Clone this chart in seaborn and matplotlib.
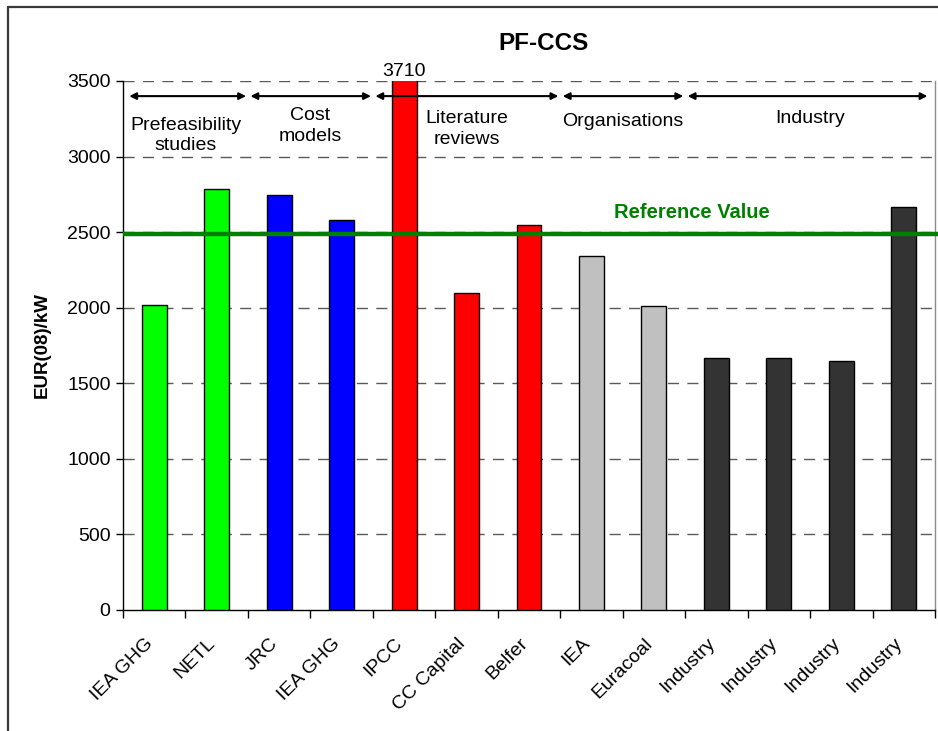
import numpy as np
import pandas as pd
import matplotlib
matplotlib.use("Agg")
import matplotlib.pyplot as plt
import matplotlib.transforms as mtransforms
from matplotlib.lines import Line2D
from matplotlib.ticker import FixedLocator, NullFormatter
import seaborn as sns

# Capital cost estimates for pulverised-fuel plants with CCS
sources = ["IEA GHG", "NETL", "JRC", "IEA GHG", "IPCC", "CC Capital", "Belfer",
           "IEA", "Euracoal", "Industry", "Industry", "Industry", "Industry"]
costs = [2020, 2785, 2745, 2580, 3710, 2100, 2550, 2345, 2010, 1670, 1665, 1645, 2665]
groups = ["Prefeasibility\nstudies"] * 2 + ["Cost\nmodels"] * 2 + \
         ["Literature\nreviews"] * 3 + ["Organisations"] * 2 + ["Industry"] * 4
group_names = ["Prefeasibility\nstudies", "Cost\nmodels", "Literature\nreviews",
               "Organisations", "Industry"]
group_colors = ["#00FF00", "#0000FF", "#FF0000", "#C0C0C0", "#333333"]
reference_value = 2490

y_max = 3500
y_ticks = [0, 500, 1000, 1500, 2000, 2500, 3000, 3500]

df = pd.DataFrame({"pos": np.arange(len(sources)), "source": sources,
                   "cost": costs, "group": groups})
color_of = dict(zip(group_names, group_colors))
bar_colors = [color_of[g] for g in df["group"]]

sns.set_theme(style="white")
plt.rcParams["font.family"] = ["Liberation Sans", "DejaVu Sans"]
plt.rcParams.update({"text.color": "black", "axes.labelcolor": "black",
                     "xtick.color": "black", "ytick.color": "black"})

fig = plt.figure(figsize=(9.38, 7.31), dpi=100)
ax = fig.add_axes([123 / 938, 1 - 610 / 731, 812 / 938, 529 / 731])

sns.barplot(data=df, x="pos", y="cost", hue="pos", palette=bar_colors,
            legend=False, width=0.4, edgecolor="black", linewidth=1.0,
            saturation=1, ax=ax, zorder=3)

ax.set_xlim(-0.5, len(sources) - 0.5)
ax.set_ylim(0, y_max)

# dashed horizontal grid
for v in y_ticks[1:]:
    ax.axhline(v, color="#5a5a5a", lw=1.0, ls=(0, (8, 6)), zorder=1)

ax.set_yticks(y_ticks)
ax.tick_params(axis="y", labelsize=14, length=5, width=1, direction="out",
               left=True, pad=4, colors="black")
ax.set_xticks(df["pos"])
ax.set_xticklabels(sources, rotation=45, ha="right", va="top",
                   rotation_mode="anchor", fontsize=14, color="black")
ax.tick_params(axis="x", length=0, pad=18)
shift = mtransforms.ScaledTranslation(-10 / 100, 0, fig.dpi_scale_trans)
for lbl in ax.get_xticklabels():
    lbl.set_transform(lbl.get_transform() + shift)
ax.xaxis.set_minor_locator(FixedLocator(np.arange(-0.5, len(sources), 1.0)))
ax.xaxis.set_minor_formatter(NullFormatter())
ax.tick_params(axis="x", which="minor", length=6, width=1, direction="out",
               bottom=True, color="black")

ax.set_xlabel("")
ax.set_ylabel("")
for side in ["left", "bottom"]:
    ax.spines[side].set_color("black")
    ax.spines[side].set_linewidth(1.0)
ax.spines["top"].set_visible(False)
ax.spines["right"].set_color("#8a8a8a")
ax.spines["right"].set_linewidth(1.0)

# value of the bar that runs off the scale
ax.annotate(f"{costs[4]}", xy=(4, y_max), xytext=(0, 1),
            textcoords="offset points", ha="center", va="bottom",
            fontsize=14, annotation_clip=False)

# reference line
ax.plot([-0.5, len(sources) - 0.45], [reference_value] * 2, color="#008000",
        lw=3.2, zorder=4, clip_on=False, solid_capstyle="butt")
ax.text(8.6, 2627, "Reference Value", color="#008000", fontsize=14.5,
        fontweight="bold", ha="center", va="center", zorder=5)

# group spans with double-headed arrows
bounds = [-0.5, 1.5, 3.5, 6.5, 8.5, 12.5]
label_top = [3265, 3325, 3305, 3290, 3310]
for i, name in enumerate(group_names):
    lo = bounds[i] + (0.1 if i == 0 else 0.04)
    hi = bounds[i + 1] - (0.12 if i == len(group_names) - 1 else 0.03)
    ax.annotate("", xy=(lo, 3400), xytext=(hi, 3400),
                arrowprops=dict(arrowstyle="<|-|>", color="black", lw=1.5,
                                mutation_scale=10, shrinkA=0, shrinkB=0),
                zorder=6)
    ax.text((bounds[i] + bounds[i + 1]) / 2, label_top[i], name, fontsize=14,
            ha="center", va="top", linespacing=1.25, zorder=6)

fig.text(544 / 938, 1 - 43 / 731, "PF-CCS", fontsize=17.5, fontweight="bold",
         ha="center", va="center")
fig.text(42 / 938, 1 - 345 / 731, "EUR(08)/kW", fontsize=13.5,
         fontweight="bold", rotation=90, ha="center", va="center")

# outer frame (left and top edges)
fig.add_artist(Line2D([8 / 938, 8 / 938], [0, 1 - 7 / 731], color="#3a3a3a",
                      lw=1.6, transform=fig.transFigure))
fig.add_artist(Line2D([8 / 938, 1], [1 - 7 / 731, 1 - 7 / 731], color="#3a3a3a",
                      lw=1.6, transform=fig.transFigure))

fig.savefig("out.png", dpi=100, facecolor="white")
